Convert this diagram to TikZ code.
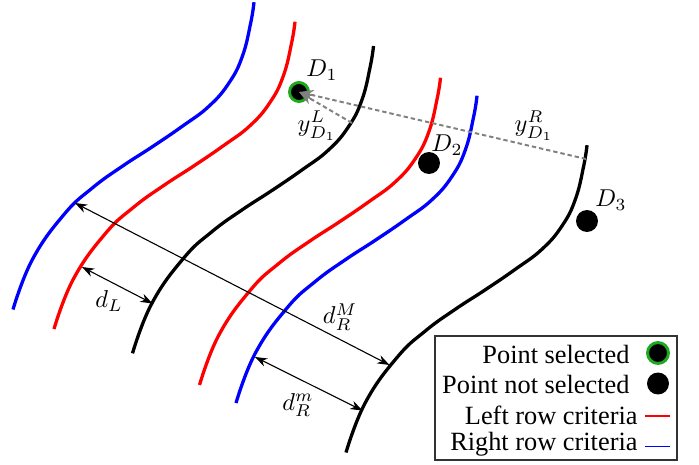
\documentclass[tikz,border=0pt]{standalone}
\usepackage[no-math]{fontspec}
\setmainfont{Liberation Serif}
\usetikzlibrary{arrows.meta}
\definecolor{selgreen}{RGB}{30,170,30}
\newcommand\rowcurve[2]{\draw[rowline,#1,shift={(#2)}] plot[smooth,tension=0.75] coordinates {(0,0) (19.4,-50) (51,-95) (79.4,-121.6) (109.4,-143.3) (139.4,-162.8) (169.4,-183.3) (196,-203.3) (216,-226.6) (229.4,-253.3) (237.7,-286.6) (241,-307.3)};}
\begin{document}
\begin{tikzpicture}[x=0.41pt,y=-0.41pt,
  rowline/.style={line width=1.35pt},
  dimarrow/.style={line width=0.45pt,{Stealth[length=5pt,width=3.6pt,inset=1.6pt]}-{Stealth[length=5pt,width=3.6pt,inset=1.6pt]}},
  distline/.style={gray,line width=0.8pt,dash pattern=on 1.8pt off 1.2pt,-{Stealth[length=6pt,width=4.5pt,inset=2pt]}},
  selpt/.style={circle,fill=black,draw=selgreen,line width=1.2pt,minimum size=7.8pt,inner sep=0pt},
  pt/.style={circle,fill=black,minimum size=9pt,inner sep=0pt},
  lbl/.style={inner sep=0pt},
  legtext/.style={anchor=east,inner sep=0pt,font=\fontsize{10.8}{12}\selectfont}]
\useasboundingbox (0,0) rectangle (699,464);
% rows
\rowcurve{blue}{13,309.5}
\rowcurve{red}{54,329}
\rowcurve{black}{132.5,353.3}
\rowcurve{red}{199.5,385}
\rowcurve{blue}{236,403}
\rowcurve{black}{346,452.5}
% points
\node[selpt] (D1) at (299,92) {};
\node[pt] (D2) at (429,163) {};
\node[pt] (D3) at (587,221) {};
\node[lbl] (D1l) at (322,70) {$D_1$};
\node[lbl] (D2l) at (447,145) {$D_2$};
\node[lbl] (D3l) at (611,200) {$D_3$};
% distances to D1
\coordinate (yLs) at (352,123);
\coordinate (yRs) at (586,159);
\draw[distline] (yLs) -- (D1.center);
\draw[distline] (yRs) -- (D1.center);
\node[lbl] (yLl) at (317,126) {$y^L_{D_1}$};
\node[lbl] (yRl) at (534,126) {$y^R_{D_1}$};
% dimension arrows
\coordinate (dLa) at (82,267);
\coordinate (dLb) at (152.5,303.5);
\coordinate (dMa) at (75,203);
\coordinate (dMb) at (389.5,365);
\coordinate (dma) at (255,357);
\coordinate (dmb) at (362.5,410.5);
\draw[dimarrow] (dLa) -- (dLb);
\draw[dimarrow] (dMa) -- (dMb);
\draw[dimarrow] (dma) -- (dmb);
\node[lbl] (dLl) at (109,301) {$d_L$};
\node[lbl] (dMl) at (340,317) {$d_R^M$};
\node[lbl] (dml) at (298,405) {$d_R^m$};
% legend
\node[draw=black!80,line width=0.5pt,minimum width=242*0.41pt,minimum height=124*0.41pt,inner sep=0pt,fill=white] (leg) at (556,398) {};
\node[legtext] (l1) at (630,354) {Point selected};
\node[legtext] (l2) at (630,384) {Point not selected};
\node[legtext] (l3) at (638,415) {Left row criteria};
\node[legtext] (l4) at (638,444) {Right row criteria};
\node[selpt,minimum size=8.6pt] (s1) at (658,353) {};
\node[pt] (s2) at (658,383.5) {};
\coordinate (r1a) at (645,416);
\coordinate (r1b) at (670,416);
\coordinate (r2a) at (645,446.5);
\coordinate (r2b) at (670,446.5);
\draw[red,line width=0.8pt] (r1a) -- (r1b);
\draw[blue,line width=0.8pt] (r2a) -- (r2b);
\end{tikzpicture}
\end{document}
